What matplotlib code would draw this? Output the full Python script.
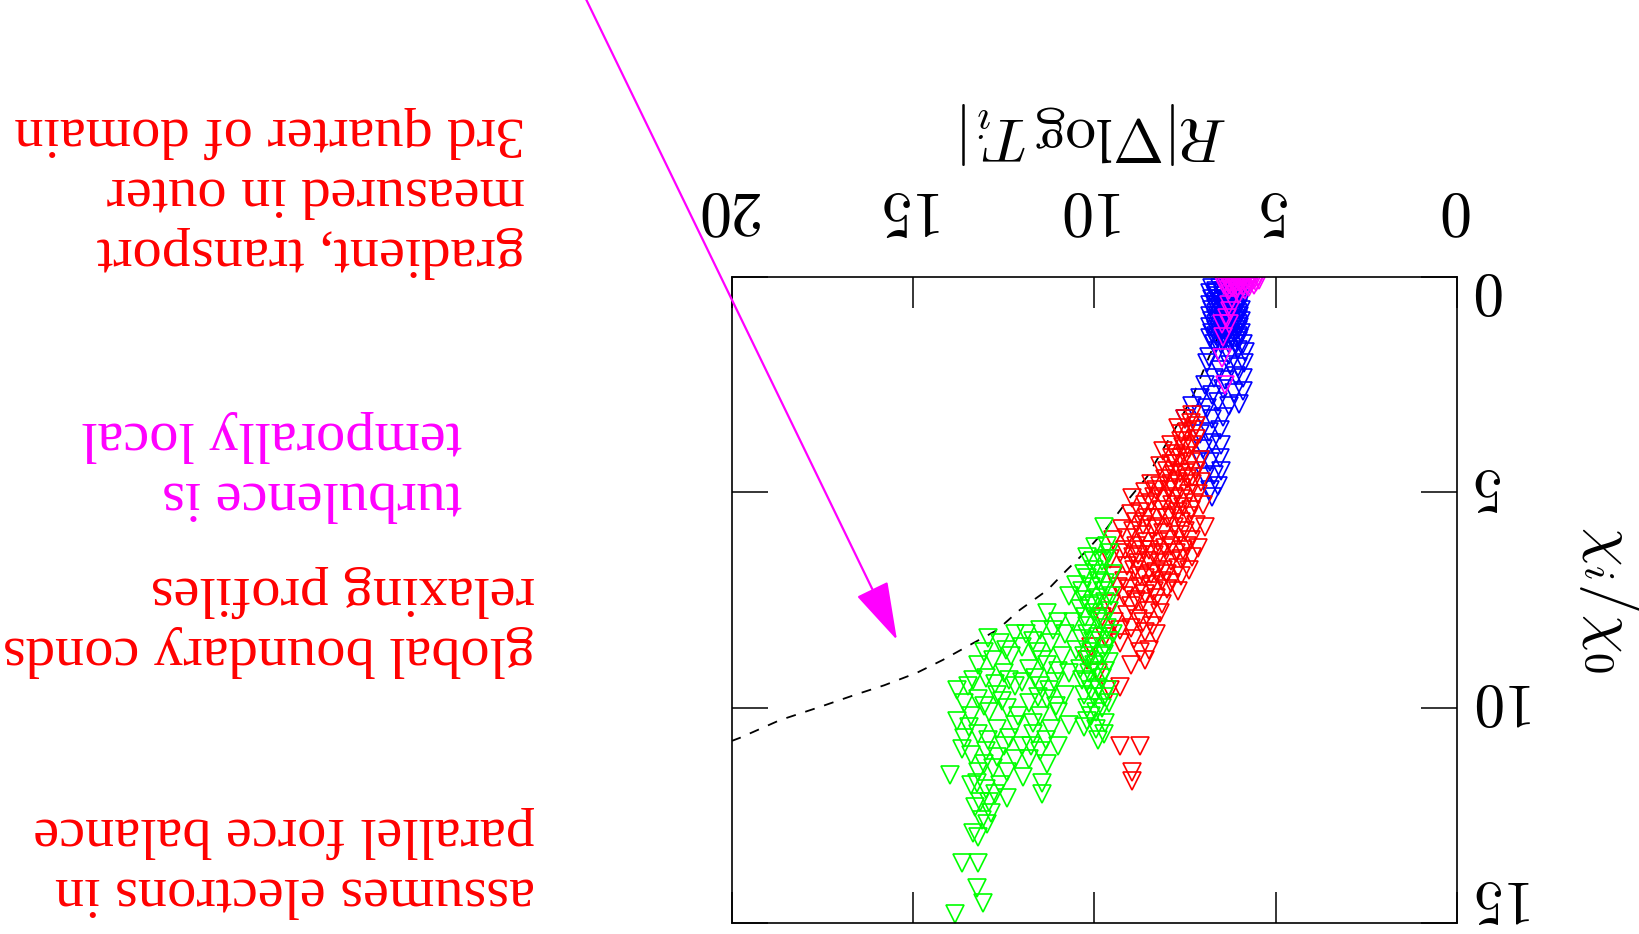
import numpy as np
import matplotlib
matplotlib.use('Agg')
import matplotlib.pyplot as plt
from matplotlib.patches import FancyArrowPatch
from matplotlib.transforms import offset_copy

plt.rcParams['mathtext.fontset'] = 'cm'

x_ticks = [0, 5, 10, 15, 20]
y_ticks = [0, 5, 10, 15]

# dashed reference curve
curve_x = [6.01, 6.26, 6.73, 7.28, 7.64, 8.55, 9.1, 9.66, 10.2, 10.76, 11.3, 12.06,
           12.69, 13.43, 14.18, 14.9, 15.8, 16.6, 17.6, 18.68, 19.78, 20.0]
curve_y = [0.0, 0.77, 1.63, 2.75, 3.32, 4.64, 5.2, 5.83, 6.34, 6.8, 7.27, 7.73,
           8.2, 8.54, 8.89, 9.19, 9.48, 9.7, 9.99, 10.29, 10.7, 10.77]

blue_pts = [(5.95, 0.25), (6.15, 0.25), (6.35, 0.25), (6.55, 0.25), (6.75, 0.25),
            (6.05, 0.38), (6.25, 0.38), (6.45, 0.38), (6.65, 0.38), (6.8, 0.38),
            (5.95, 0.51), (6.15, 0.51), (6.35, 0.51), (6.55, 0.51), (6.75, 0.51),
            (6.0, 0.64), (6.2, 0.64), (6.4, 0.64), (6.6, 0.64), (6.8, 0.64),
            (5.95, 0.77), (6.15, 0.77), (6.35, 0.77), (6.55, 0.77), (6.75, 0.77),
            (6.0, 0.9), (6.2, 0.9), (6.4, 0.9), (6.6, 0.9), (6.8, 0.9),
            (5.95, 1.03), (6.15, 1.03), (6.35, 1.03), (6.55, 1.03), (6.75, 1.03),
            (6.0, 1.16), (6.2, 1.16), (6.4, 1.16), (6.6, 1.16), (6.8, 1.16),
            (5.95, 1.29), (6.15, 1.29), (6.35, 1.29), (6.55, 1.29), (6.75, 1.29),
            (6.0, 1.42), (6.2, 1.42), (6.4, 1.42), (6.6, 1.42), (6.8, 1.42),
            (5.9, 1.55), (6.1, 1.55), (6.3, 1.55), (6.5, 1.55), (6.7, 1.55),
            (6.05, 0.32), (6.25, 0.32), (6.45, 0.32), (6.65, 0.32),
            (6.05, 0.45), (6.25, 0.45), (6.45, 0.45), (6.65, 0.45),
            (6.05, 0.58), (6.25, 0.58), (6.45, 0.58), (6.65, 0.58),
            (6.05, 0.71), (6.25, 0.71), (6.45, 0.71), (6.65, 0.71),
            (6.05, 0.84), (6.25, 0.84), (6.45, 0.84), (6.65, 0.84),
            (6.05, 0.97), (6.25, 0.97), (6.45, 0.97), (6.65, 0.97),
            (6.05, 1.1), (6.25, 1.1), (6.45, 1.1), (6.65, 1.1),
            (6.05, 1.23), (6.25, 1.23), (6.45, 1.23), (6.65, 1.23),
            (6.05, 1.36), (6.25, 1.36), (6.45, 1.36), (6.65, 1.36),
            (6.05, 1.49), (6.25, 1.49), (6.45, 1.49), (6.65, 1.49),
            (5.85, 1.75), (6.05, 1.7), (6.3, 1.8), (6.6, 1.72), (6.85, 1.85),
            (5.88, 2.0), (6.05, 2.1), (6.25, 2.05), (6.55, 2.15), (6.9, 2.0),
            (5.9, 2.35), (6.1, 2.3), (6.4, 2.4), (6.7, 2.35), (6.95, 2.5),
            (5.9, 2.65), (6.15, 2.7), (6.45, 2.6), (6.75, 2.75), (7.1, 2.8),
            (6.0, 2.95), (6.3, 3.0), (6.6, 2.9), (6.9, 3.05), (7.3, 3.0),
            (6.45, 3.25), (6.75, 3.3), (7.05, 3.2), (7.5, 3.3),
            (6.55, 3.55), (6.85, 3.6), (7.1, 3.65),
            (6.5, 3.9), (6.75, 3.85), (7.0, 4.0),
            (6.55, 4.2), (6.8, 4.3), (7.05, 4.25),
            (6.5, 4.5), (6.7, 4.6), (6.95, 4.65),
            (6.6, 4.85), (6.8, 4.95), (6.75, 5.1)]

magenta_pts = [(5.5, 0.0), (5.65, 0.0), (5.8, 0.0), (5.95, 0.0), (6.1, 0.0), (6.25, 0.0), (6.4, 0.0),
               (5.45, 0.06), (5.6, 0.06), (5.75, 0.06), (5.9, 0.06), (6.05, 0.06), (6.2, 0.06),
               (6.35, 0.06), (6.5, 0.06),
               (5.55, 0.12), (5.7, 0.12), (5.85, 0.12), (6.0, 0.12), (6.15, 0.12), (6.3, 0.12),
               (5.6, 0.18), (5.78, 0.18), (5.95, 0.18), (6.12, 0.18), (6.28, 0.18), (6.42, 0.18),
               (5.75, 0.24), (5.9, 0.24), (6.05, 0.24), (6.2, 0.24), (6.35, 0.24),
               (5.85, 0.3), (6.1, 0.3), (6.3, 0.3),
               (6.0, 0.4), (6.2, 0.5), (6.3, 0.65), (6.25, 0.8), (6.35, 0.95),
               (6.3, 1.1), (6.48, 1.1), (6.45, 1.39), (6.48, 1.88), (6.4, 2.5)]

red_pts = [(7.3, 3.2), (7.5, 3.3), (7.2, 3.45), (7.7, 3.5), (7.45, 3.6),
           (7.2, 3.75), (7.6, 3.8), (7.9, 3.9), (7.4, 4.0), (7.75, 4.1), (8.1, 4.05),
           (7.1, 4.25), (7.35, 4.3), (7.6, 4.2), (7.9, 4.35), (8.2, 4.4), (7.5, 4.55), (7.8, 4.6),
           (7.05, 4.75), (7.3, 4.8), (7.6, 4.9), (7.9, 4.8), (8.3, 4.95), (8.6, 5.0), (8.97, 5.13),
           (7.4, 5.05), (7.8, 5.1),
           (7.0, 5.3), (7.25, 5.25), (7.55, 5.35), (7.85, 5.3), (8.15, 5.4), (8.45, 5.25),
           (8.75, 5.45), (9.0, 5.5), (7.4, 5.55), (8.0, 5.6),
           (6.95, 5.8), (7.2, 5.75), (7.5, 5.9), (7.8, 5.8), (8.1, 5.95), (8.4, 5.85),
           (8.7, 6.0), (9.1, 6.05), (9.5, 6.1), (7.35, 6.1),
           (7.15, 6.3), (7.45, 6.25), (7.75, 6.4), (8.05, 6.3), (8.35, 6.45), (8.65, 6.35),
           (8.95, 6.5), (9.3, 6.4), (9.57, 6.55),
           (7.4, 6.8), (7.7, 6.75), (8.0, 6.9), (8.3, 6.85), (8.6, 7.0), (8.9, 6.8),
           (9.2, 7.05), (9.5, 6.95), (7.9, 7.1),
           (7.7, 7.3), (8.0, 7.25), (8.3, 7.45), (8.6, 7.35), (8.85, 7.5), (9.2, 7.4),
           (9.55, 7.6), (8.15, 7.6),
           (8.2, 7.8), (8.5, 7.75), (8.8, 7.95), (9.1, 7.85), (9.45, 8.0), (9.8, 7.9), (8.4, 8.1),
           (8.3, 8.3), (8.6, 8.25), (8.9, 8.4), (9.3, 8.5), (9.7, 8.35), (10.1, 8.6),
           (8.5, 8.65), (8.75, 8.7),
           (8.6, 8.9), (9.0, 9.0), (9.57, 9.6), (9.3, 9.52), (9.9, 9.2), (10.2, 8.9),
           (7.35, 3.4), (7.6, 3.65), (7.3, 3.9), (7.5, 4.15), (7.75, 4.35), (8.0, 4.5),
           (7.2, 4.5), (7.45, 4.7), (7.7, 4.75), (8.05, 4.7), (8.45, 4.8), (7.15, 5.05),
           (7.6, 5.15), (8.1, 5.15), (8.35, 5.1), (8.6, 5.3), (7.7, 5.45), (8.25, 5.6),
           (8.55, 5.6), (8.85, 5.7), (7.65, 6.0), (7.95, 6.1), (8.25, 6.15), (8.55, 6.15),
           (8.85, 6.25), (7.3, 6.5), (7.6, 6.55), (7.9, 6.6), (8.2, 6.65), (8.5, 6.6),
           (8.8, 6.65), (9.1, 6.7), (8.15, 7.05), (8.45, 7.15), (8.75, 7.2), (9.05, 7.25),
           (9.35, 7.2),
           (7.25, 3.55), (7.55, 3.95), (7.85, 4.2), (7.3, 4.65), (7.65, 4.55), (7.95, 4.95),
           (8.2, 4.85), (7.35, 5.4), (7.6, 5.7), (7.9, 5.55), (8.3, 5.8), (8.65, 5.75),
           (8.95, 5.9), (9.25, 5.85), (7.55, 6.35), (7.9, 6.25), (8.2, 6.4), (8.5, 6.35),
           (8.8, 6.45), (9.15, 6.35), (7.6, 6.95), (8.1, 6.8), (8.45, 6.9), (8.75, 6.95),
           (8.35, 7.3), (8.7, 7.55), (9.0, 7.65), (8.65, 8.0), (9.0, 8.15), (9.3, 8.2),
           (9.3, 10.9), (8.74, 10.9), (8.97, 11.5), (8.97, 11.7)]

green_pts = [(9.75, 5.8), (9.99, 6.27), (9.6, 6.4), (10.2, 6.5), (9.8, 6.6), (10.0, 6.8),
             (9.5, 6.9), (10.3, 6.9), (9.7, 7.1), (10.1, 7.2), (10.5, 7.15), (9.55, 7.4),
             (9.9, 7.45), (10.3, 7.5), (10.7, 7.4), (9.6, 7.75), (10.0, 7.8), (10.4, 7.7),
             (9.8, 8.0), (10.2, 8.1), (10.6, 8.0), (9.5, 8.3), (9.9, 8.35), (10.35, 8.4),
             (9.7, 8.6), (10.1, 8.7), (10.5, 8.65), (9.6, 8.95), (10.0, 9.0), (10.4, 9.1),
             (9.8, 9.3), (10.2, 9.4), (9.65, 9.6), (10.0, 9.75), (9.8, 10.0), (10.1, 10.2),
             (9.7, 10.35), (9.95, 10.5), (9.75, 10.6),
             (9.65, 6.25), (9.85, 6.9), (10.2, 7.0), (9.75, 7.3), (10.05, 7.6), (10.25, 7.9),
             (9.65, 8.15), (10.05, 8.45), (10.3, 8.8), (9.85, 8.8), (9.7, 9.15), (10.15, 9.2),
             (9.9, 9.55), (10.3, 9.7), (9.6, 9.9), (10.2, 10.0), (10.3, 10.45), (9.9, 10.75),
             (9.7, 6.55), (10.05, 6.6), (9.9, 7.05), (10.35, 7.3), (9.7, 7.55), (10.15, 7.65),
             (9.9, 7.95), (9.6, 8.45), (10.2, 8.3), (9.75, 8.75), (10.15, 8.9), (9.95, 9.15),
             (10.35, 9.35), (9.75, 9.75), (10.1, 9.6), (9.95, 10.1), (10.2, 10.3),
             (11.3, 7.8), (11.0, 8.0), (10.8, 8.3), (11.5, 8.2), (11.9, 8.3), (11.2, 8.5),
             (10.9, 8.8), (11.6, 8.7), (12.0, 8.6), (11.3, 9.0), (10.7, 9.2), (11.8, 9.1),
             (11.1, 9.4), (11.5, 9.5), (12.0, 9.4), (10.8, 9.7), (11.3, 9.8), (11.8, 9.9),
             (11.0, 10.1), (11.5, 10.2), (12.1, 10.2), (10.7, 10.4), (11.2, 10.5), (11.7, 10.6),
             (11.0, 10.9), (11.5, 11.0), (12.0, 10.9), (11.3, 11.3), (11.8, 11.2),
             (11.45, 11.75), (11.45, 12.0), (11.97, 11.6), (12.4, 12.1),
             (11.15, 8.2), (11.7, 8.45), (11.45, 8.9), (11.0, 9.15), (11.65, 9.3), (11.25, 9.6),
             (11.55, 9.75), (11.05, 9.95), (11.7, 10.35), (11.35, 10.75), (11.75, 10.9),
             (12.2, 8.3), (12.6, 8.5), (12.94, 8.38), (12.3, 8.8), (12.8, 8.9), (13.2, 9.0),
             (12.5, 9.2), (13.0, 9.3), (12.2, 9.5), (13.5, 9.5), (13.8, 9.6), (12.7, 9.7),
             (13.2, 9.8), (13.6, 9.9), (12.4, 10.0), (12.9, 10.1), (13.4, 10.2), (13.8, 10.3),
             (12.2, 10.4), (12.7, 10.5), (13.2, 10.6), (13.6, 10.7), (12.5, 10.9), (13.0, 11.0),
             (13.4, 11.1), (12.2, 11.2), (12.8, 11.4), (13.2, 11.5), (13.99, 11.56),
             (12.6, 11.8), (13.0, 11.9), (13.4, 11.8), (12.9, 12.2), (13.3, 12.3),
             (13.1, 12.6), (13.35, 12.9), (12.97, 12.7), (13.2, 13.0),
             (12.45, 8.65), (13.05, 8.7), (12.35, 9.35), (12.75, 9.45), (13.35, 9.35),
             (12.55, 9.85), (13.05, 9.95), (13.45, 10.45), (12.95, 10.75), (12.35, 10.7),
             (13.65, 10.95), (12.7, 11.15), (13.05, 11.3), (12.4, 11.5), (13.25, 11.75),
             (12.75, 12.0), (13.15, 12.2), (12.85, 12.45),
             (13.66, 13.6), (13.2, 13.6), (13.24, 14.19), (13.07, 14.53), (13.85, 14.8)]

notes = ['gradient, transport\nmeasured in outer\n3rd quarter of domain',
         'turbulence is\ntemporally local',
         'global boundary conds\nrelaxing profiles',
         'assumes electrons in\nparallel force balance']
note_colors = ['#ff0000', '#ff00ff', '#ff0000', '#ff0000']

W, H = 1640, 934
fig = plt.figure(figsize=(W / 100, H / 100), dpi=100)
ax = fig.add_axes([732 / W, 1 - 923 / H, 725 / W, 646 / H])

ax.plot(curve_x, curve_y, color='black', lw=1.3, dashes=(5.5, 5.5))
for pts, col in [(blue_pts, '#0000ff'), (red_pts, '#ff0000'),
                 (green_pts, '#00ff00'), (magenta_pts, '#ff00ff')]:
    px, py = zip(*pts)
    ax.plot(px, py, ls='none', marker='v', ms=12.5, mfc='none', mec=col, mew=1.2)

# the whole chart is shown turned by 180 degrees
ax.set_xlim(20, 0)
ax.set_ylim(15, 0)
ax.set_xticks(x_ticks, labels=[f'${v}$' for v in x_ticks])
ax.set_yticks(y_ticks)
ax.xaxis.set_label_position('top')
ax.yaxis.set_label_position('right')
ax.tick_params(axis='x', direction='in', length=22, width=1.1, top=True, bottom=True,
               labeltop=True, labelbottom=False, labelrotation=180, labelsize=46, pad=26)
ax.tick_params(axis='y', direction='in', length=26, width=1.1, left=True, right=True,
               labelleft=False, labelright=False)
for s in ax.spines.values():
    s.set_linewidth(1.2)

# y tick labels, end ones pulled inside the axis range as in the original
y_shift = [-12, 7, 7, 26]
for v, dy in zip(y_ticks, y_shift):
    tr = offset_copy(ax.get_yaxis_transform(), fig=fig, x=18, y=dy, units='dots')
    ax.text(1.0, v, f'${v}$', transform=tr, fontsize=44, rotation=180,
            ha='left', va='center')

ax.set_xlabel(r'$R|\nabla\log T_i|$', fontsize=44, rotation=180, labelpad=22)
ax.set_ylabel(r'$\chi_i/\chi_0$', fontsize=44, rotation=270, labelpad=133)

anchors = [(525, 278), (462, 522), (535, 677), (535, 918)]
for txt, col, (ax_px, ay_px) in zip(notes, note_colors, anchors):
    fig.text(ax_px / W, 1 - ay_px / H, txt, color=col, fontsize=42,
             family='Liberation Serif', rotation=180, rotation_mode='anchor',
             ha='left', va='top', multialignment='left', linespacing=1.2)

arrow = FancyArrowPatch((584 / W, 1 + 5 / H), (897 / W, 1 - 640 / H),
                        transform=fig.transFigure, color='#ff00ff', lw=1.6,
                        arrowstyle='-|>,head_length=37,head_width=11',
                        shrinkA=0, shrinkB=0)
fig.add_artist(arrow)

fig.savefig('out.png', dpi=100)
